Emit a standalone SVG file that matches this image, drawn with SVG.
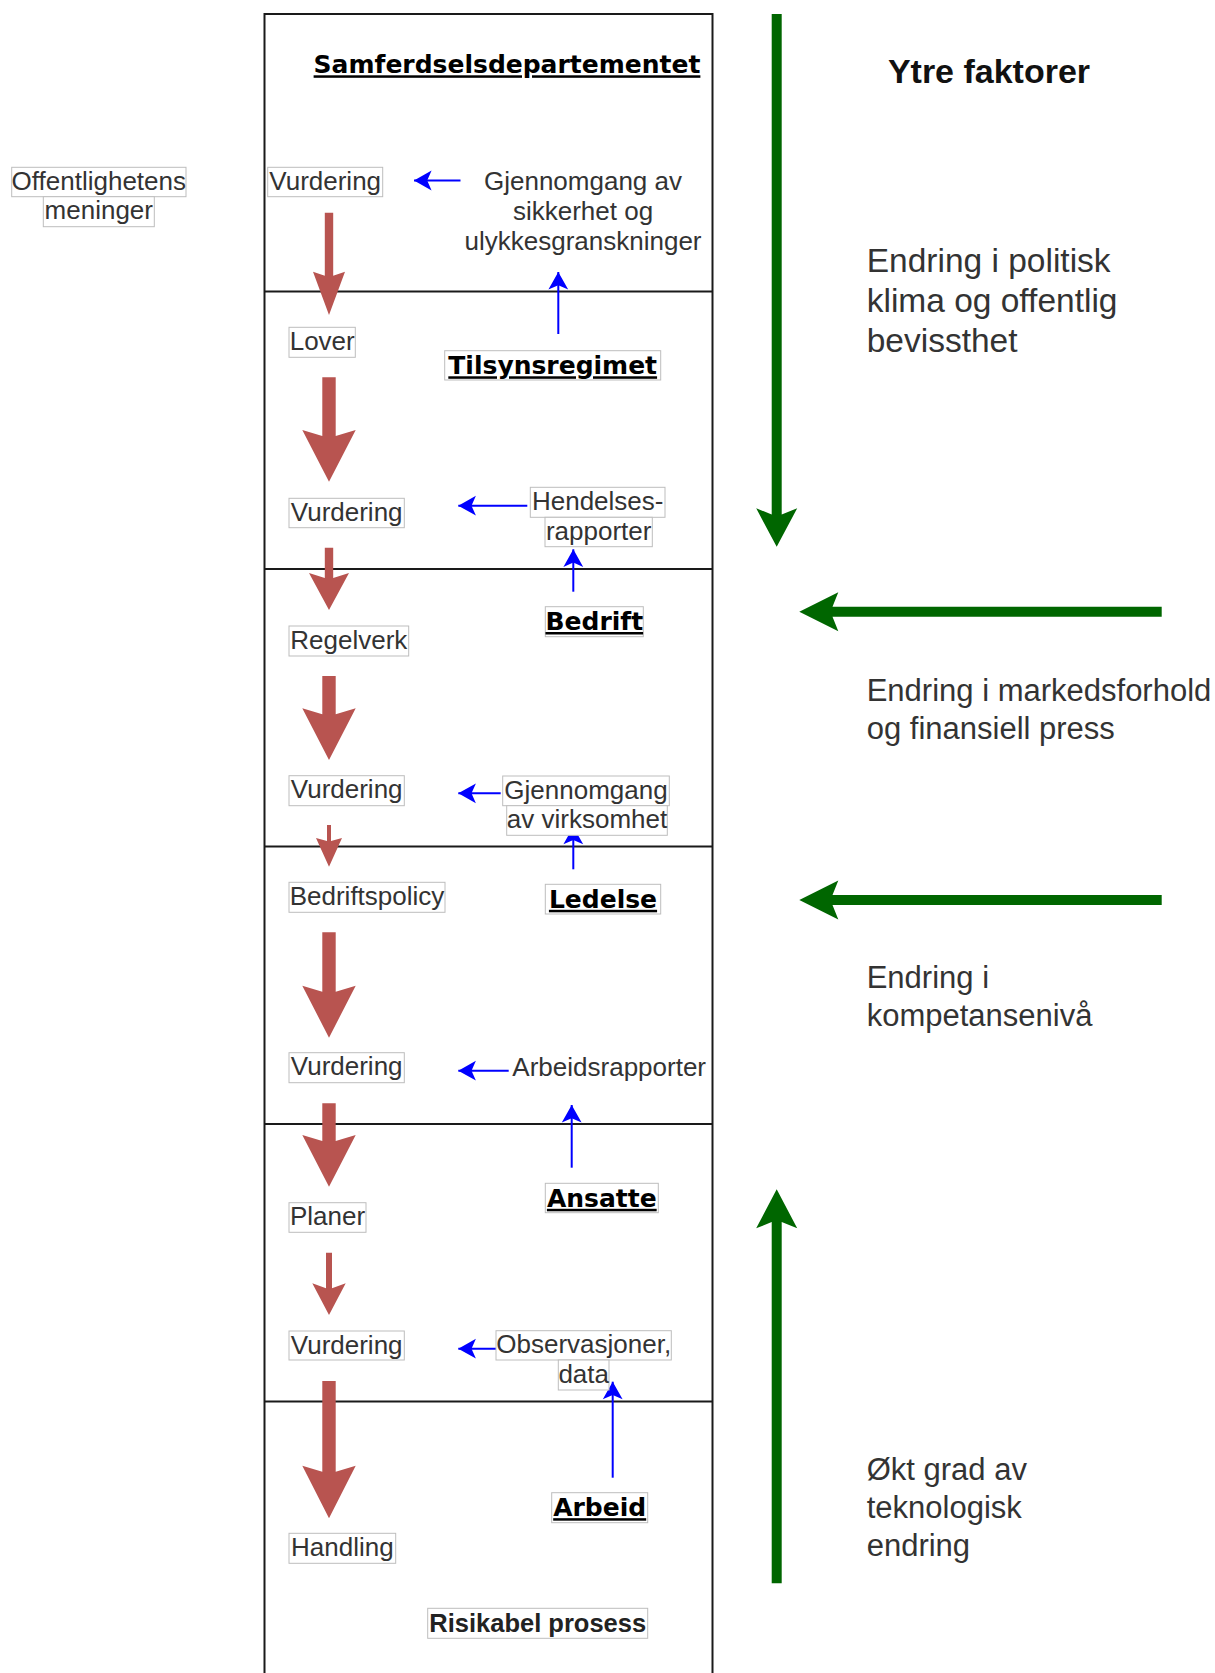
<svg xmlns="http://www.w3.org/2000/svg" width="1215" height="1673" viewBox="0 0 1215 1673">
  <defs>
    <style>
      .frame { fill: none; stroke: #1a1a1a; stroke-width: 2; }
      .box { fill: #ffffff; stroke: #bdbdbd; stroke-width: 1; }
      .t { font-family: "Liberation Sans", Arial, sans-serif; font-size: 26px; fill: #333333; text-anchor: middle; }
      .hb { font-family: "DejaVu Sans", Verdana, sans-serif; font-weight: bold; font-size: 25px; fill: #000000; text-anchor: middle; text-decoration: underline; }
      .rb { font-family: "Liberation Sans", Arial, sans-serif; font-weight: bold; font-size: 25.5px; fill: #222222; text-anchor: middle; }
      .title { font-family: "Liberation Sans", Arial, sans-serif; font-weight: bold; font-size: 34px; fill: #111111; text-anchor: middle; }
      .side1 { font-family: "Liberation Sans", Arial, sans-serif; font-size: 33.5px; fill: #333333; }
      .side2 { font-family: "Liberation Sans", Arial, sans-serif; font-size: 31px; fill: #333333; }
      .flow { fill: #b85450; }
      .blue { fill: none; stroke: #0000ff; stroke-width: 2; marker-end: url(#blueHead); }
      .green { fill: #006600; }
    </style>
    <marker id="blueHead" markerUnits="userSpaceOnUse" markerWidth="22" markerHeight="22" viewBox="-18 -10 19 20" refX="0" refY="0" orient="auto">
      <path d="M0,0 L-16,-9 L-12,0 L-16,9 Z" fill="#0000ff"/>
    </marker>
  </defs>

  <!-- layered organisation frame -->
  <g id="frame">
    <rect class="frame" x="264.5" y="14" width="448" height="1690"/>
    <line class="frame" x1="264.5" y1="291.5" x2="712.5" y2="291.5"/>
    <line class="frame" x1="264.5" y1="569" x2="712.5" y2="569"/>
    <line class="frame" x1="264.5" y1="846.5" x2="712.5" y2="846.5"/>
    <line class="frame" x1="264.5" y1="1124" x2="712.5" y2="1124"/>
    <line class="frame" x1="264.5" y1="1401.5" x2="712.5" y2="1401.5"/>
  </g>

  <!-- connectors -->
  <g id="connectors">
    <!-- downward flow arrows -->
    <polygon class="flow" points="324.8,212.7 333.2,212.7 333.2,275.7 345,271.7 329,315 313,271.7 324.8,275.7"/>
    <polygon class="flow" points="322.3,377.3 335.7,377.3 335.7,436 355.7,430 329,481.7 302.3,430 322.3,436"/>
    <polygon class="flow" points="324.8,547.7 333.2,547.7 333.2,578 349,573 329,610 309,573 324.8,578"/>
    <polygon class="flow" points="322.3,676 335.7,676 335.7,714.3 355.7,708.3 329,760 302.3,708.3 322.3,714.3"/>
    <polygon class="flow" points="327,825 331,825 331,841 342,838 329,866.7 316,838 327,841"/>
    <polygon class="flow" points="322.3,932.3 335.7,932.3 335.7,991.7 355.7,985.7 329,1037.7 302.3,985.7 322.3,991.7"/>
    <polygon class="flow" points="322.3,1103.3 335.7,1103.3 335.7,1141 355.7,1135 329,1186.7 302.3,1135 322.3,1141"/>
    <polygon class="flow" points="326,1252.7 332,1252.7 332,1288.3 345.7,1283.3 329,1315 312.3,1283.3 326,1288.3"/>
    <polygon class="flow" points="322.3,1381 335.7,1381 335.7,1471.7 355.7,1465.7 329,1518.3 302.3,1465.7 322.3,1471.7"/>

    <!-- feedback arrows -->
    <line class="blue" x1="460.5" y1="180.5" x2="414" y2="180.5"/>
    <line class="blue" x1="558.3" y1="334" x2="558.3" y2="272"/>
    <line class="blue" x1="527.3" y1="505.7" x2="458.3" y2="505.7"/>
    <line class="blue" x1="573.3" y1="591.7" x2="573.3" y2="549.3"/>
    <line class="blue" x1="500.7" y1="793.3" x2="458.3" y2="793.3"/>
    <line class="blue" x1="573.3" y1="869.3" x2="573.3" y2="826.7"/>
    <line class="blue" x1="508.7" y1="1070.7" x2="458.3" y2="1070.7"/>
    <line class="blue" x1="571.7" y1="1167.7" x2="571.7" y2="1105"/>
    <line class="blue" x1="500" y1="1348.7" x2="458.3" y2="1348.7"/>
    <line class="blue" x1="612.7" y1="1477.7" x2="612.7" y2="1381.7"/>

    <!-- external pressure arrows -->
    <polygon class="green" points="771.7,14 781.7,14 781.7,514.5 797.2,508.3 776.7,546.7 756.2,508.3 771.7,514.5"/>
    <polygon class="green" points="1161.7,606.7 1161.7,616.7 832.5,616.7 838.3,631.2 799.3,611.7 838.3,592.2 832.5,606.7"/>
    <polygon class="green" points="1161.7,895 1161.7,905 832.5,905 838.3,919.5 799.3,900 838.3,880.5 832.5,895"/>
    <polygon class="green" points="771.7,1583.3 781.7,1583.3 781.7,1222 797.2,1228.3 776.7,1189.3 756.2,1228.3 771.7,1222"/>
  </g>

  <!-- layer headings -->
  <g id="samferdselsdepartementet">
    <text class="hb" x="507" y="73.3">Samferdselsdepartementet</text>
  </g>
  <g id="tilsynsregimet">
    <rect class="box" x="444.7" y="350.7" width="216" height="29.3"/>
    <text class="hb" x="552.7" y="374.3">Tilsynsregimet</text>
  </g>
  <g id="bedrift">
    <rect class="box" x="545.3" y="606.7" width="98" height="30"/>
    <text class="hb" x="594.3" y="630">Bedrift</text>
  </g>
  <g id="ledelse">
    <rect class="box" x="545.3" y="884.3" width="115.4" height="29.7"/>
    <text class="hb" x="603" y="907.8">Ledelse</text>
  </g>
  <g id="ansatte">
    <rect class="box" x="545.3" y="1183.3" width="113" height="29.4"/>
    <text class="hb" x="601.8" y="1206.8">Ansatte</text>
  </g>
  <g id="arbeid">
    <rect class="box" x="551.7" y="1492.7" width="96" height="30"/>
    <text class="hb" x="599.7" y="1516.2">Arbeid</text>
  </g>
  <g id="risikabel-prosess">
    <rect class="box" x="427.7" y="1608.3" width="220" height="30"/>
    <text class="rb" x="537.7" y="1631.5">Risikabel prosess</text>
  </g>

  <!-- public opinion -->
  <g id="offentlighetens-meninger">
    <rect class="box" x="11.7" y="167.3" width="174.3" height="29.4"/>
    <rect class="box" x="43.3" y="196.7" width="111" height="30"/>
    <text class="t" x="98.8" y="189.8">Offentlighetens</text>
    <text class="t" x="98.8" y="219.2">meninger</text>
  </g>

  <!-- decision chain -->
  <g id="vurdering-1">
    <rect class="box" x="267.7" y="167.3" width="115" height="29.4"/>
    <text class="t" x="325.2" y="189.8">Vurdering</text>
  </g>
  <g id="lover">
    <rect class="box" x="289" y="327.3" width="66.3" height="30"/>
    <text class="t" x="322.2" y="349.8">Lover</text>
  </g>
  <g id="vurdering-2">
    <rect class="box" x="289" y="498.3" width="115.3" height="29.4"/>
    <text class="t" x="346.7" y="520.8">Vurdering</text>
  </g>
  <g id="regelverk">
    <rect class="box" x="289" y="626" width="119.7" height="30"/>
    <text class="t" x="348.8" y="648.5">Regelverk</text>
  </g>
  <g id="vurdering-3">
    <rect class="box" x="289" y="775.7" width="115.3" height="30"/>
    <text class="t" x="346.7" y="798.2">Vurdering</text>
  </g>
  <g id="bedriftspolicy">
    <rect class="box" x="289" y="882.3" width="156" height="30"/>
    <text class="t" x="367" y="904.8">Bedriftspolicy</text>
  </g>
  <g id="vurdering-4">
    <rect class="box" x="289" y="1052.7" width="115.3" height="30"/>
    <text class="t" x="346.7" y="1075.2">Vurdering</text>
  </g>
  <g id="planer">
    <rect class="box" x="289" y="1202.7" width="77" height="29.6"/>
    <text class="t" x="327.5" y="1225.2">Planer</text>
  </g>
  <g id="vurdering-5">
    <rect class="box" x="289" y="1331" width="115.3" height="29"/>
    <text class="t" x="346.7" y="1353.5">Vurdering</text>
  </g>
  <g id="handling">
    <rect class="box" x="289" y="1533.3" width="106.7" height="30"/>
    <text class="t" x="342.3" y="1555.8">Handling</text>
  </g>

  <!-- feedback sources -->
  <g id="gjennomgang-sikkerhet">
    <text class="t" x="583" y="190">Gjennomgang av</text>
    <text class="t" x="583" y="220">sikkerhet og</text>
    <text class="t" x="583" y="250">ulykkesgranskninger</text>
  </g>
  <g id="hendelsesrapporter">
    <rect class="box" x="530.3" y="487.3" width="134.7" height="30"/>
    <rect class="box" x="545" y="517.3" width="107.3" height="29.4"/>
    <text class="t" x="597.7" y="509.8">Hendelses-</text>
    <text class="t" x="598.7" y="539.8">rapporter</text>
  </g>
  <g id="gjennomgang-virksomhet">
    <rect class="box" x="502.7" y="776" width="166.6" height="29.7"/>
    <rect class="box" x="506.7" y="805.7" width="160.6" height="29.6"/>
    <text class="t" x="586" y="798.5">Gjennomgang</text>
    <text class="t" x="587" y="828.2">av virksomhet</text>
  </g>
  <g id="arbeidsrapporter">
    <text class="t" x="609.2" y="1075.5">Arbeidsrapporter</text>
  </g>
  <g id="observasjoner">
    <rect class="box" x="496" y="1330.7" width="175.3" height="29.3"/>
    <rect class="box" x="558.3" y="1360" width="50.7" height="30"/>
    <text class="t" x="583.7" y="1353.2">Observasjoner,</text>
    <text class="t" x="583.7" y="1382.5">data</text>
  </g>

  <!-- external factors -->
  <g id="ytre-faktorer">
    <text class="title" x="989" y="82.7">Ytre faktorer</text>
  </g>
  <g id="politisk-klima">
    <text class="side1" x="866.7" y="271.7">Endring i politisk</text>
    <text class="side1" x="866.7" y="311.7">klima og offentlig</text>
    <text class="side1" x="866.7" y="351.7">bevissthet</text>
  </g>
  <g id="markedsforhold">
    <text class="side2" x="866.7" y="700.5">Endring i markedsforhold</text>
    <text class="side2" x="866.7" y="739">og finansiell press</text>
  </g>
  <g id="kompetanseniva">
    <text class="side2" x="866.7" y="988.3">Endring i</text>
    <text class="side2" x="866.7" y="1026">kompetansenivå</text>
  </g>
  <g id="teknologisk-endring">
    <text class="side2" x="866.7" y="1480">Økt grad av</text>
    <text class="side2" x="866.7" y="1518">teknologisk</text>
    <text class="side2" x="866.7" y="1556">endring</text>
  </g>
</svg>
